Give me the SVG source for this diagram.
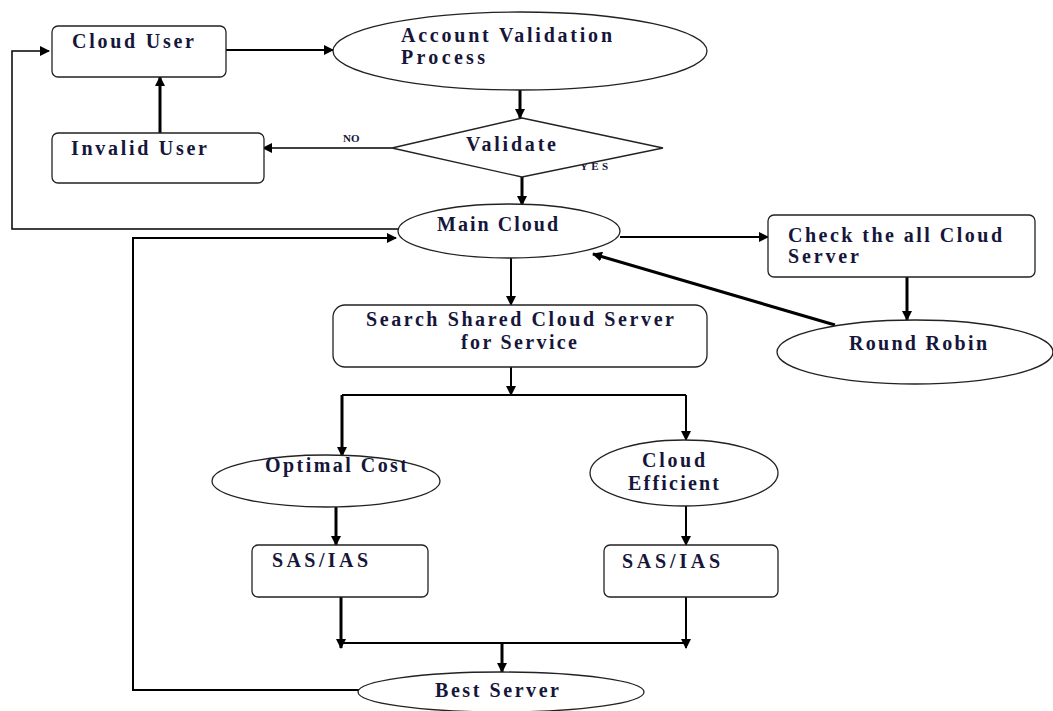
<svg xmlns="http://www.w3.org/2000/svg" width="1053" height="711" viewBox="0 0 1053 711">
<style>
.box{fill:#fff;stroke:#222;stroke-width:1.3}
.t{font-family:"Liberation Serif","Times New Roman",serif;font-weight:bold;font-size:20px;fill:#16163a}
.s{font-family:"Liberation Serif","Times New Roman",serif;font-weight:bold;font-size:11px;fill:#16163a}
.c{fill:none;stroke:#000;stroke-width:2}
.k{fill:none;stroke:#000;stroke-width:3}
.th{fill:none;stroke:#000;stroke-width:1.5}
</style>
<defs>
<marker id="a" markerWidth="10" markerHeight="10" refX="9" refY="5" orient="auto" markerUnits="userSpaceOnUse" viewBox="0 0 10 10">
<path d="M0,0 L10,5 L0,10 z" fill="#000"/>
</marker>
</defs>
<rect width="1053" height="711" fill="#fff"/>
<g id="connectors">
<path class="c" d="M226,50 H333" marker-end="url(#a)"/>
<path class="k" d="M520,90 V118" marker-end="url(#a)"/>
<path class="th" d="M392,148 H263" marker-end="url(#a)"/>
<path class="k" d="M160,133 V77" marker-end="url(#a)"/>
<path class="k" d="M522,177 V205" marker-end="url(#a)"/>
<path class="th" d="M398,229 H12 V51 H49" marker-end="url(#a)"/>
<path class="c" d="M360,690 H133 V238 H396" marker-end="url(#a)"/>
<path class="c" d="M620,237 H768" marker-end="url(#a)"/>
<path class="k" d="M907,277 V320" marker-end="url(#a)"/>
<path class="k" d="M835,325 L593,254" marker-end="url(#a)"/>
<path class="c" d="M511,258 V305" marker-end="url(#a)"/>
<path class="c" d="M511,367 V395" marker-end="url(#a)"/>
<path class="c" d="M342,395 H686"/>
<path class="k" d="M342,395 V456" marker-end="url(#a)"/>
<path class="c" d="M686,395 V440" marker-end="url(#a)"/>
<path class="k" d="M336,506 V545" marker-end="url(#a)"/>
<path class="c" d="M686,506 V545" marker-end="url(#a)"/>
<path class="k" d="M341,595 V648" marker-end="url(#a)"/>
<path class="c" d="M686,595 V648" marker-end="url(#a)"/>
<path class="c" d="M341,643 H686"/>
<path class="k" d="M502,643 V672" marker-end="url(#a)"/>
</g>
<g id="cloud-user">
<rect class="box" x="52" y="26" width="174" height="51" rx="6"/>
<text class="t" x="72" y="48" textLength="122" lengthAdjust="spacing">Cloud User</text>
</g>
<g id="account-validation">
<ellipse class="box" cx="520" cy="51" rx="187" ry="39"/>
<text class="t" x="401" y="42" textLength="211" lengthAdjust="spacing">Account Validation</text>
<text class="t" x="401" y="64" textLength="84" lengthAdjust="spacing">Process</text>
</g>
<g id="validate">
<text class="s" x="580" y="170" textLength="28" lengthAdjust="spacing">YES</text>
<polygon class="box" points="522,118 663,148 522,177 392,148"/>
<text class="t" x="466" y="151" textLength="90" lengthAdjust="spacing">Validate</text>
<text class="s" x="343" y="142">NO</text>
</g>
<g id="invalid-user">
<rect class="box" x="52" y="133" width="212" height="50" rx="6"/>
<text class="t" x="71" y="155" textLength="136" lengthAdjust="spacing">Invalid User</text>
</g>
<g id="main-cloud">
<ellipse class="box" cx="509" cy="231" rx="111" ry="27"/>
<text class="t" x="437" y="231" textLength="121" lengthAdjust="spacing">Main Cloud</text>
</g>
<g id="check-servers">
<rect class="box" x="768" y="215" width="267" height="62" rx="6"/>
<text class="t" x="788" y="242" textLength="214" lengthAdjust="spacing">Check the all Cloud</text>
<text class="t" x="788" y="263" textLength="71" lengthAdjust="spacing">Server</text>
</g>
<g id="round-robin">
<ellipse class="box" cx="915" cy="352" rx="138" ry="32"/>
<text class="t" x="849" y="350" textLength="138" lengthAdjust="spacing">Round Robin</text>
</g>
<g id="search">
<rect class="box" x="333" y="305" width="374" height="62" rx="12"/>
<text class="t" x="366" y="326" textLength="308" lengthAdjust="spacing">Search Shared Cloud Server</text>
<text class="t" x="461" y="349" textLength="116" lengthAdjust="spacing">for Service</text>
</g>
<g id="optimal-cost">
<ellipse class="box" cx="326" cy="481" rx="114" ry="26"/>
<text class="t" x="265" y="472" textLength="142" lengthAdjust="spacing">Optimal Cost</text>
</g>
<g id="cloud-efficient">
<ellipse class="box" cx="684" cy="473" rx="94" ry="33"/>
<text class="t" x="642" y="467" textLength="63" lengthAdjust="spacing">Cloud</text>
<text class="t" x="628" y="490" textLength="91" lengthAdjust="spacing">Efficient</text>
</g>
<g id="sas-left">
<rect class="box" x="252" y="545" width="176" height="52" rx="6"/>
<text class="t" x="272" y="567" textLength="96" lengthAdjust="spacing">SAS/IAS</text>
</g>
<g id="sas-right">
<rect class="box" x="604" y="545" width="174" height="52" rx="6"/>
<text class="t" x="622" y="568" textLength="98" lengthAdjust="spacing">SAS/IAS</text>
</g>
<g id="best-server">
<ellipse class="box" cx="501" cy="692" rx="143" ry="20"/>
<text class="t" x="435" y="697" textLength="124" lengthAdjust="spacing">Best Server</text>
</g>
</svg>
